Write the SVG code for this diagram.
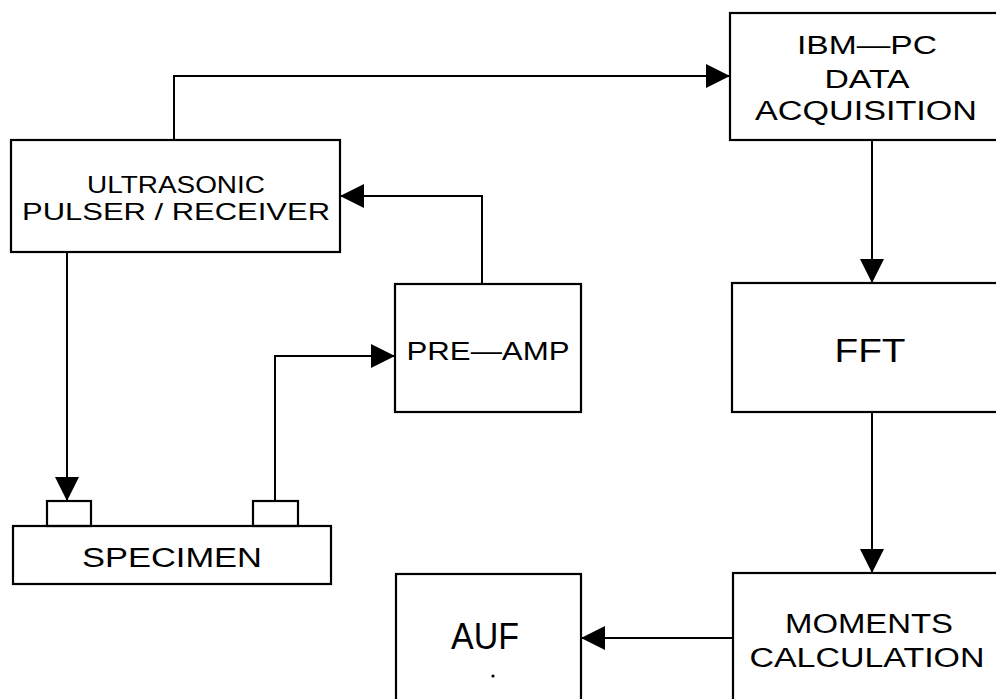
<svg xmlns="http://www.w3.org/2000/svg" width="996" height="699" viewBox="0 0 996 699">
<style>
.box{fill:none;stroke:#000;stroke-width:2.2}
.ln{fill:none;stroke:#000;stroke-width:2}
.t{font-family:"Liberation Sans",Arial,sans-serif;fill:#000;text-anchor:middle;lengthAdjust:spacingAndGlyphs}
</style>
<defs>
<marker id="arr" markerUnits="userSpaceOnUse" markerWidth="24" markerHeight="24" viewBox="0 0 22 22" refX="22" refY="11" orient="auto">
<path d="M0,0 L22,11 L0,22 Z" fill="#000"/>
</marker>
</defs>
<rect width="996" height="699" fill="#fff"/>
<g id="connectors">
<path class="ln" d="M174,140 V76 H730" marker-end="url(#arr)"/>
<path class="ln" d="M482,284 V196 H340" marker-end="url(#arr)"/>
<path class="ln" d="M67,252 V501" marker-end="url(#arr)"/>
<path class="ln" d="M275,501 V356 H395" marker-end="url(#arr)"/>
<path class="ln" d="M872,140 V283" marker-end="url(#arr)"/>
<path class="ln" d="M872,412 V573" marker-end="url(#arr)"/>
<path class="ln" d="M733,638 H581" marker-end="url(#arr)"/>
</g>
<g id="ultrasonic">
<rect class="box" x="11" y="140" width="329" height="112"/>
<text class="t" x="176" y="193" font-size="23" textLength="178" lengthAdjust="spacingAndGlyphs">ULTRASONIC</text>
<text class="t" x="176" y="220" font-size="24" textLength="308" lengthAdjust="spacingAndGlyphs">PULSER / RECEIVER</text>
</g>
<g id="ibmpc">
<rect class="box" x="730" y="13" width="280" height="127"/>
<text class="t" x="867" y="54" font-size="26" textLength="140" lengthAdjust="spacingAndGlyphs">IBM—PC</text>
<text class="t" x="867" y="88" font-size="26" textLength="85" lengthAdjust="spacingAndGlyphs">DATA</text>
<text class="t" x="866" y="120" font-size="27" textLength="222" lengthAdjust="spacingAndGlyphs">ACQUISITION</text>
</g>
<g id="preamp">
<rect class="box" x="395" y="284" width="186" height="128"/>
<text class="t" x="488" y="360" font-size="26" textLength="163" lengthAdjust="spacingAndGlyphs">PRE—AMP</text>
</g>
<g id="fft">
<rect class="box" x="732" y="283" width="280" height="129"/>
<text class="t" x="870" y="362" font-size="34" textLength="71" lengthAdjust="spacingAndGlyphs">FFT</text>
</g>
<g id="specimen">
<rect class="box" x="13" y="526" width="318" height="58"/>
<rect class="box" x="47" y="501" width="44" height="25"/>
<rect class="box" x="253" y="501" width="45" height="25"/>
<text class="t" x="172" y="567" font-size="27" textLength="180" lengthAdjust="spacingAndGlyphs">SPECIMEN</text>
</g>
<g id="auf">
<rect class="box" x="396" y="574" width="185" height="140"/>
<text class="t" x="485" y="649" font-size="36" textLength="68" lengthAdjust="spacingAndGlyphs">AUF</text>
<circle cx="493" cy="676" r="1.6" fill="#000"/>
</g>
<g id="moments">
<rect class="box" x="733" y="573" width="280" height="140"/>
<text class="t" x="869" y="633" font-size="27" textLength="168" lengthAdjust="spacingAndGlyphs">MOMENTS</text>
<text class="t" x="867" y="667" font-size="27" textLength="235" lengthAdjust="spacingAndGlyphs">CALCULATION</text>
</g>
</svg>
